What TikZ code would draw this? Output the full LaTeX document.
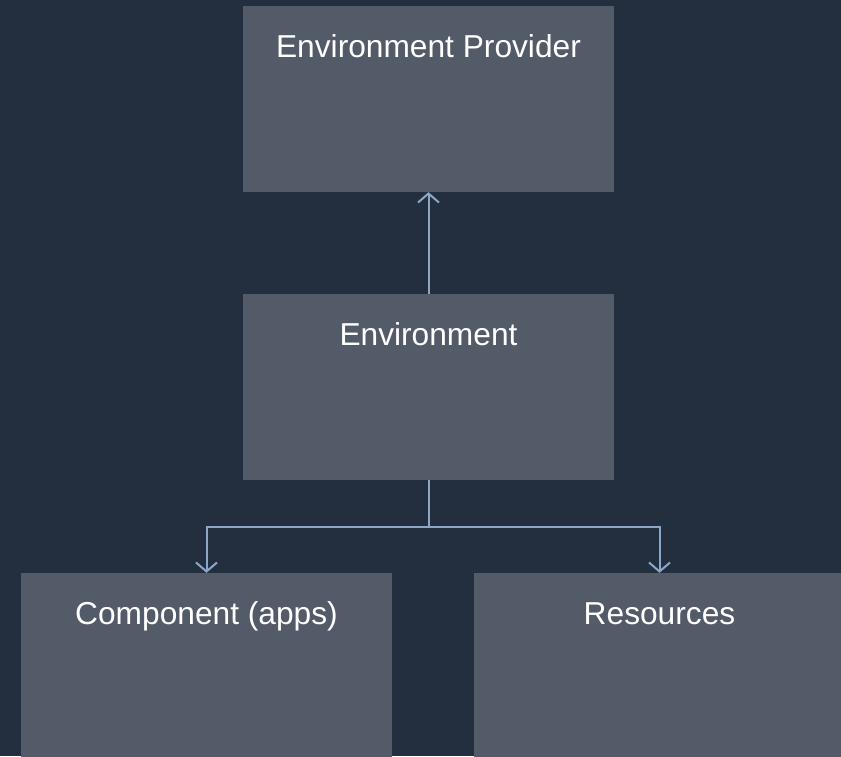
\documentclass[tikz,border=0pt]{standalone}
\usepackage{fontspec}
\setmainfont{Liberation Sans}
\usetikzlibrary{arrows.meta}
\definecolor{bgcol}{HTML}{232F3E}
\definecolor{boxcol}{HTML}{535A68}
\definecolor{linkcol}{HTML}{8DA7C7}
\begin{document}
\begin{tikzpicture}[x=1pt,y=-1pt,
    box/.style={fill=boxcol,text=white,inner sep=0pt,minimum width=371pt,
      text height=51pt,text depth=135pt,font=\fontsize{31.7}{38}\selectfont},
    link/.style={draw=linkcol,line width=2pt,-{Straight Barb[length=9pt,width=21pt]}}]
        \useasboundingbox[fill=bgcol] (0,0) rectangle (841,756);
        \node[box] (prov) at (428.5,99) {Environment Provider};
        \node[box] (env) at (428.5,387) {Environment};
        \node[box] (comp) at (206.5,666) {Component (apps)};
        \node[box] (res) at (659.5,666) {Resources};
        \draw[link] (env.north) -- (prov.south);
        \draw[link] (env.south) -- ++(0,47) -| (comp.north);
        \draw[link] (env.south) -- ++(0,47) -| (res.north);
\end{tikzpicture}
\end{document}
